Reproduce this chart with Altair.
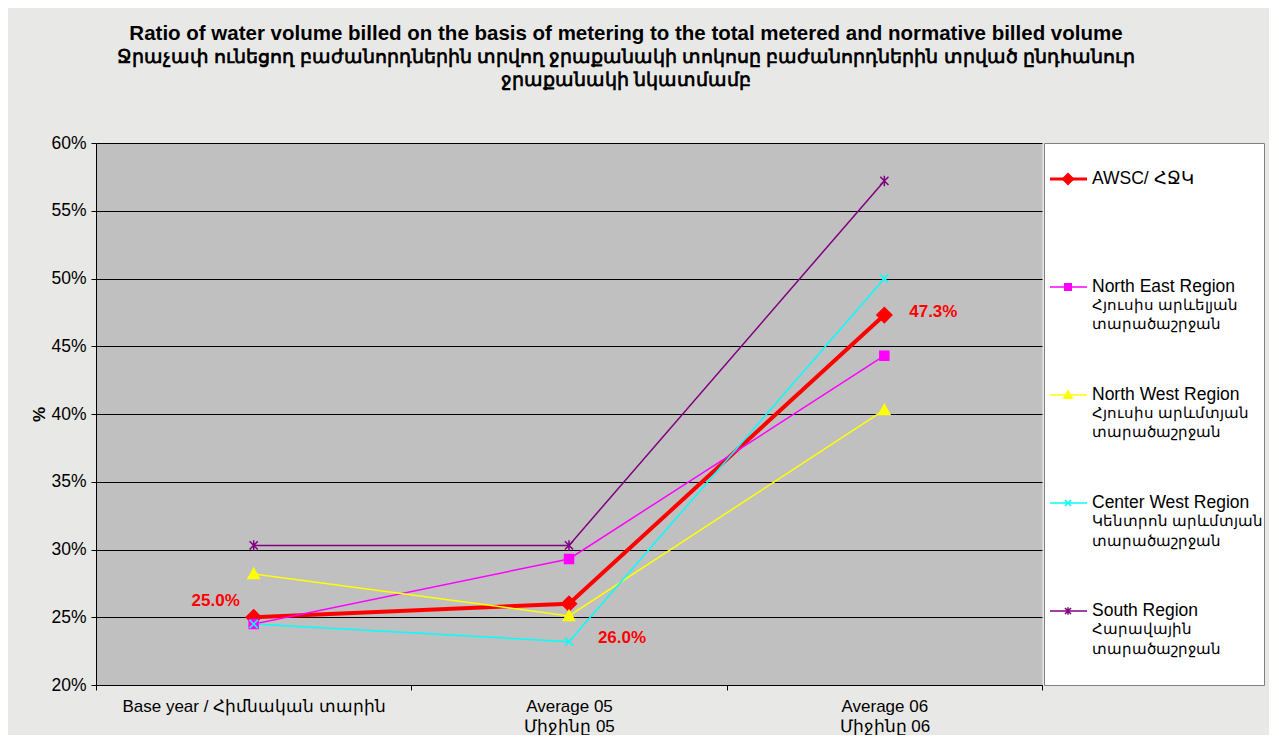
import altair as alt
import pandas as pd

categories = ["Base year / Հիմնական տարին", "Average 05|Միջինը 05", "Average 06|Միջինը 06"]
series_names = ["AWSC/ ՀՋԿ", "North East Region", "North West Region",
                "Center West Region", "South Region"]
legend_first = ["AWSC/ ՀՋԿ", "North East Region", "North West Region",
                "Center West Region", "South Region"]
legend_rest = [
    "",
    "Հյուսիս արևելյան\nտարածաշրջան",
    "Հյուսիս արևմտյան\nտարածաշրջան",
    "Կենտրոն արևմտյան\nտարածաշրջան",
    "Հարավային\nտարածաշրջան",
]
awsc = [25.0, 26.0, 47.3]
north_east = [24.5, 29.3, 44.3]
north_west = [28.2, 25.1, 40.3]
center_west = [24.5, 23.2, 50.0]
south = [30.3, 30.3, 57.2]
series_values = [awsc, north_east, north_west, center_west, south]

colors = ["#FF0000", "#FF00FF", "#FFFF00", "#00FFFF", "#800080"]
shapes = [
    "M0,-1L1,0L0,1L-1,0Z",
    "M-0.6,-0.6H0.6V0.6H-0.6Z",
    "M0,-0.75L0.75,0.6H-0.75Z",
    "M-0.55,-0.55L0.55,0.55M-0.55,0.55L0.55,-0.55",
    "M-0.55,-0.55L0.55,0.55M-0.55,0.55L0.55,-0.55M0,-0.7V0.7",
]

title_line = "Ratio of water volume billed on the basis of metering to the total metered and normative billed volume"
subtitle_lines = [
    "Ջրաչափ ունեցող բաժանորդներին տրվող ջրաքանակի տոկոսը բաժանորդներին տրված ընդհանուր",
    "ջրաքանակի նկատմամբ",
]

rows = []
for s, vals in zip(series_names, series_values):
    for c, v in zip(categories, vals):
        rows.append({"series": s, "category": c, "value": v})
df = pd.DataFrame(rows)

FONT = "Arial"
LBL = 17.5

color_scale = alt.Scale(domain=series_names, range=colors)
shape_scale = alt.Scale(domain=series_names, range=shapes)
is_main = alt.datum.series == series_names[0]

x_enc = alt.X(
    "category:N", sort=categories, title=None,
    scale=alt.Scale(type="band", paddingInner=0, paddingOuter=0),
    bandPosition=0.5,
    axis=alt.Axis(labelExpr="isValid(datum.value) ? split(datum.value, '|') : ''",
                  labelAngle=0, tickBand="extent", labelLimit=500,
                  labelPadding=8, tickSize=5, labelLineHeight=20, grid=False,
                  domainColor="black", tickColor="black", labelFontSize=17,
                  labelFont=FONT, labelColor="black", labelBaseline="top"),
)
y_enc = alt.Y(
    "value:Q", title="%",
    scale=alt.Scale(domain=[20, 60], nice=False, zero=False),
    axis=alt.Axis(values=[20, 25, 30, 35, 40, 45, 50, 55, 60],
                  labelExpr="datum.value + '%'", grid=True, gridColor="black",
                  gridWidth=1, tickSize=5, labelPadding=5, domainColor="black",
                  tickColor="black", labelFontSize=LBL, labelFont=FONT,
                  labelColor="black", titleFont=FONT, titleFontSize=17,
                  titleFontWeight="bold", titleColor="black",
                  minExtent=46, maxExtent=46, titlePadding=2),
)

base = alt.Chart(df)
lines = base.mark_line().encode(
    x=x_enc, y=y_enc,
    color=alt.Color("series:N", scale=color_scale, legend=None),
    strokeWidth=alt.condition(is_main, alt.value(4), alt.value(1.5)),
)
points = base.mark_point(filled=True, size=225, strokeWidth=1.5, opacity=1).encode(
    x=x_enc, y=y_enc,
    color=alt.Color("series:N", scale=color_scale, legend=None),
    stroke=alt.Stroke("series:N", scale=color_scale, legend=None),
    shape=alt.Shape("series:N", scale=shape_scale, legend=None),
)

awsc_df = df[df["series"] == series_names[0]].copy()
awsc_df["label"] = awsc_df["value"].map(lambda v: f"{v:.1f}%")
label_style = dict(color="#FF0000", fontWeight="bold", fontSize=17, font=FONT, align="center",
                   baseline="middle")
lab1 = alt.Chart(awsc_df[awsc_df["category"] == categories[0]]).mark_text(
    dx=-38, dy=-16, **label_style).encode(x=x_enc, y=y_enc, text="label:N")
lab2 = alt.Chart(awsc_df[awsc_df["category"] == categories[1]]).mark_text(
    dx=53, dy=34, **label_style).encode(x=x_enc, y=y_enc, text="label:N")
lab3 = alt.Chart(awsc_df[awsc_df["category"] == categories[2]]).mark_text(
    dx=49, dy=-3, **label_style).encode(x=x_enc, y=y_enc, text="label:N")

main = alt.layer(lines, points, lab1, lab2, lab3).properties(
    width=946, height=542,
    view=alt.ViewBackground(fill="#C0C0C0", stroke="transparent"),
)

leg_df = pd.DataFrame({"series": series_names, "first": legend_first, "rest": legend_rest,
                       "order": list(range(len(series_names)))})
leg_y = alt.Y("order:Q", scale=alt.Scale(domain=[-0.333, 4.685], reverse=True, nice=False, zero=False),
              axis=None)
leg_base = alt.Chart(leg_df)
leg_rule = leg_base.mark_rule().encode(
    y=leg_y, x=alt.value(6), x2=alt.value(43),
    color=alt.Color("series:N", scale=color_scale, legend=None),
    strokeWidth=alt.condition(is_main, alt.value(3), alt.value(1.5)),
)
leg_pt = leg_base.mark_point(filled=True, size=120, strokeWidth=1.5, opacity=1).encode(
    y=leg_y, x=alt.value(24),
    color=alt.Color("series:N", scale=color_scale, legend=None),
    stroke=alt.Stroke("series:N", scale=color_scale, legend=None),
    shape=alt.Shape("series:N", scale=shape_scale, legend=None),
)
leg_txt1 = leg_base.mark_text(align="left", baseline="middle", fontSize=LBL, font=FONT,
                              color="black").encode(
    y=leg_y, x=alt.value(48), text="first:N",
)
leg_txt2 = leg_base.mark_text(lineBreak="\n", lineHeight=19.5, align="left", baseline="top",
                              dy=11, fontSize=15, font=FONT, color="black").encode(
    y=leg_y, x=alt.value(48), text="rest:N",
)
legend = alt.layer(leg_rule, leg_pt, leg_txt1, leg_txt2).properties(
    width=220, height=542,
    view=alt.ViewBackground(fill="white", stroke="#808080", strokeWidth=1),
)

chart = alt.hconcat(main, legend, spacing=0).properties(
    title=alt.TitleParams(text=title_line, subtitle=subtitle_lines, fontSize=20.5,
                          fontWeight="bold", font=FONT, color="black", anchor="middle",
                          subtitleFont=FONT, subtitleFontSize=18.7, subtitleFontWeight="bold",
                          subtitleColor="black", subtitleLineHeight=23, subtitlePadding=3,
                          offset=44, dx=-21),
    background="#E8E8E6",
    padding={"left": 21, "top": 16, "right": 4, "bottom": 0},
).configure_view(strokeWidth=1)

chart.save("out.html", embed_options={"renderer": "svg", "actions": False})
